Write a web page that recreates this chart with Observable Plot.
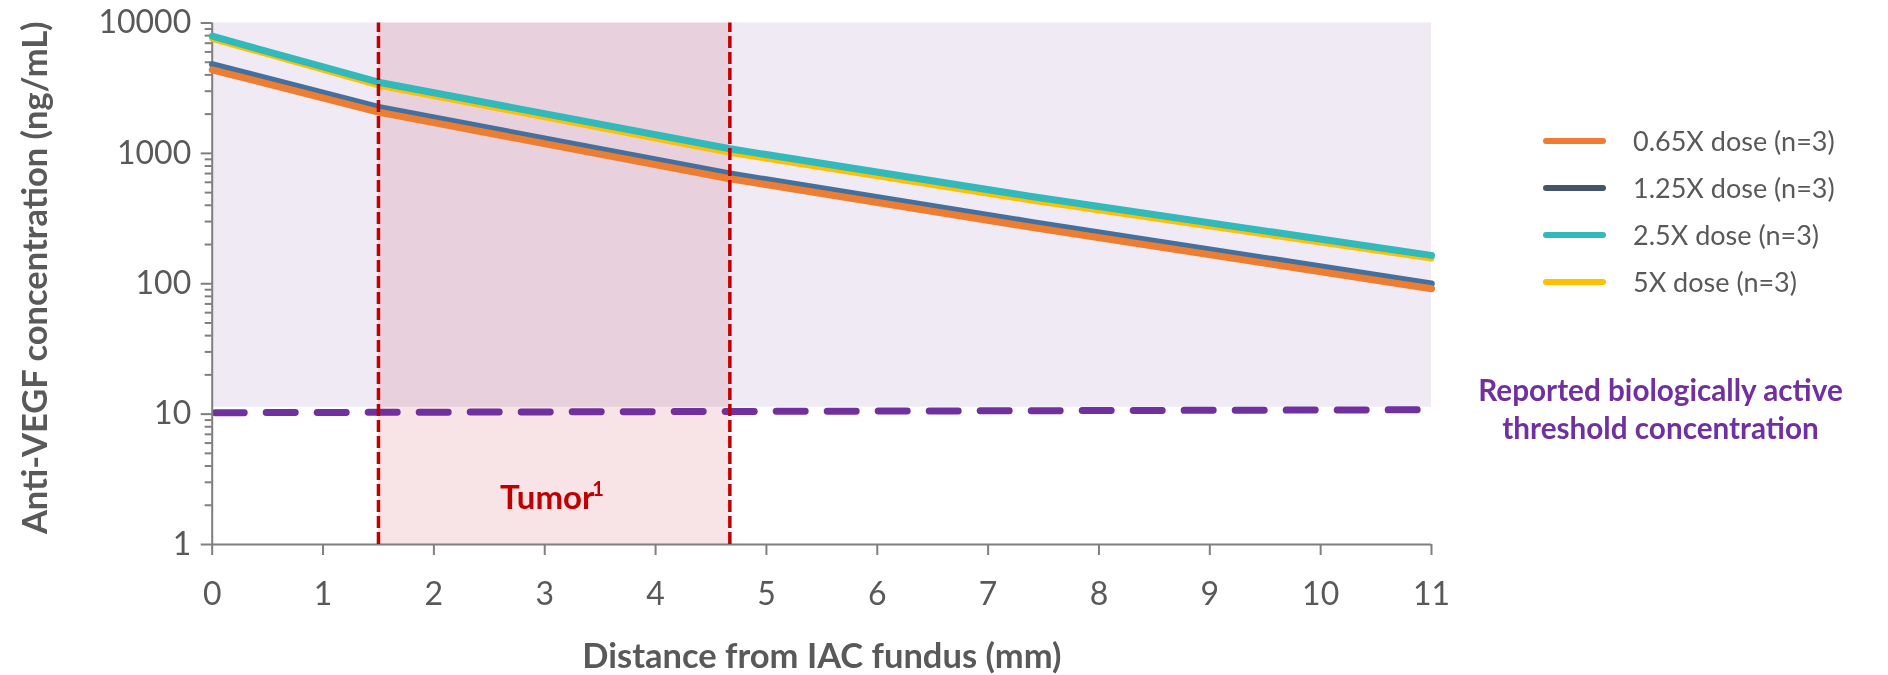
<!DOCTYPE html>
<html>
<head>
<meta charset="utf-8">
<script src="https://cdn.jsdelivr.net/npm/d3@7"></script>
<script src="https://cdn.jsdelivr.net/npm/@observablehq/plot@0.6"></script>
<style>
  html, body { margin: 0; padding: 0; background: #fff; }
  #wrap { position: relative; width: 1888px; height: 675px; font-family: Lato, "Open Sans", sans-serif; }
  #legend { position: absolute; left: 1543px; top: 117px; }
  .row { display: flex; align-items: center; height: 47px; }
  .sw { width: 63px; height: 6px; border-radius: 3px; margin-right: 27px; }
  .lab { font-size: 27px; color: #595959; white-space: nowrap; }
</style>
</head>
<body>
<div id="wrap"></div>
<script>
// ---- data ----
const distance = [0, 1.5, 4.67, 7.39, 11];
const dose065 = [4375, 2070, 639, 271, 91.6];
const dose125 = [4810, 2260, 698, 297, 100];
const dose25  = [7920, 3515, 1084, 467, 165];
const dose5   = [7570, 3318, 1011, 435, 156];

const seriesNames = ["0.65X dose (n=3)", "1.25X dose (n=3)", "2.5X dose (n=3)", "5X dose (n=3)"];
const lineColors = ["#ED7D31", "#43709E", "#31B9BB", "#FFC000"];
const legendColors = ["#ED7D31", "#44546A", "#31B9BB", "#FFC000"];

const tumorRange = [1.5, 4.67];         // mm
const activeZone = [11.3, 10000];       // ng/mL shaded band
const thresholdX = [0, 11];
const thresholdY = [10.25, 10.8];
const xTicks = [0, 1, 2, 3, 4, 5, 6, 7, 8, 9, 10, 11];
const yMajor = [1, 10, 100, 1000, 10000];
const yMinor = [];
for (const dec of [1, 10, 100, 1000]) for (const m of [2,3,4,5,6,7,8,9]) yMinor.push(dec * m);

const toRows = (vals, name) => distance.map((d, i) => ({x: d, y: vals[i], name}));
const s065 = toRows(dose065, seriesNames[0]);
const s125 = toRows(dose125, seriesNames[1]);
const s25  = toRows(dose25,  seriesNames[2]);
const s5   = toRows(dose5,   seriesNames[3]);

const gray = "#7F7F7F", textGray = "#595959";
const tumorMid = (tumorRange[0] + tumorRange[1]) / 2;

const plot = Plot.plot({
  width: 1888,
  height: 675,
  marginLeft: 211.7,
  marginRight: 457,
  marginTop: 22.5,
  marginBottom: 131,
  style: {fontFamily: "Lato, 'Open Sans', sans-serif", background: "#fff", overflow: "visible"},
  x: {domain: [0, 11], axis: null},
  y: {type: "log", domain: [1, 10000], axis: null},
  marks: [
    // active band
    Plot.rect([{}], {x1: thresholdX[0], x2: thresholdX[1], y1: activeZone[0], y2: activeZone[1], fill: "#EFEAF4"}),
    // tumor band
    Plot.rect([{}], {x1: tumorRange[0], x2: tumorRange[1], y1: yMajor[0], y2: yMajor[yMajor.length - 1], fill: "#F8E4E6", mixBlendMode: "multiply"}),
    // threshold dashed line
    Plot.line(thresholdX.map((x, i) => ({x, y: thresholdY[i]})), {x: "x", y: "y", stroke: "#7030A0", strokeWidth: 7, strokeDasharray: "29,22", strokeDashoffset: -3}),
    // axes lines
    Plot.ruleX([0], {y1: 1, y2: 10000, stroke: gray, strokeWidth: 2}),
    Plot.ruleY([1], {x1: 0, x2: 11, stroke: gray, strokeWidth: 2}),
    Plot.axisY(yMinor, {tickSize: 7, strokeWidth: 2, stroke: gray, text: null, label: null}),
    Plot.axisY(yMajor, {tickSize: 11, strokeWidth: 2, stroke: gray, tickPadding: 10, fill: textGray, fontSize: 32, tickFormat: d3.format("d"), label: null}),
    Plot.axisX(xTicks, {tickSize: 11, strokeWidth: 2, stroke: gray, tickPadding: 27, fill: textGray, fontSize: 32, label: null}),
    // series lines
    Plot.line(s125, {x: "x", y: "y", stroke: lineColors[1], strokeWidth: 6.5, strokeLinecap: "round", strokeLinejoin: "round"}),
    Plot.line(s065, {x: "x", y: "y", stroke: lineColors[0], strokeWidth: 7, strokeLinecap: "round", strokeLinejoin: "round"}),
    Plot.line(s5,   {x: "x", y: "y", stroke: lineColors[3], strokeWidth: 6, strokeLinecap: "round", strokeLinejoin: "round"}),
    Plot.line(s25,  {x: "x", y: "y", stroke: lineColors[2], strokeWidth: 7, strokeLinecap: "round", strokeLinejoin: "round"}),
    // tumor dashed borders
    Plot.ruleX(tumorRange, {y1: 1, y2: 10000, stroke: "#C00000", strokeWidth: 3.5, strokeDasharray: "12,4"}),
    // tumor label with superscript
    Plot.text(["Tumor"], {x: tumorMid, y: 2.25, dx: -7, fill: "#C00000", fontWeight: "bold", fontSize: 33}),
    Plot.text(["1"], {x: tumorMid, y: 2.25, dx: 38, dy: -9, textAnchor: "start", fill: "#C00000", fontWeight: "bold", fontSize: 20}),
    // threshold label
    Plot.text(["Reported biologically active\nthreshold concentration"], {x: thresholdX[1], y: 10, dx: 229, dy: -6, fill: "#7030A0", fontWeight: "bold", fontSize: 29.7, lineHeight: 1.28, textAnchor: "middle"}),
    // axis titles
    Plot.text(["Distance from IAC fundus (mm)"], {frameAnchor: "bottom", dy: 112, lineAnchor: "middle", textAnchor: "middle", fill: textGray, fontWeight: "bold", fontSize: 34.5}),
    Plot.text(["Anti-VEGF concentration (ng/mL)"], {frameAnchor: "left", dx: -176, dy: -6, rotate: -90, textAnchor: "middle", lineAnchor: "middle", fill: textGray, fontWeight: "bold", fontSize: 34.5})
  ]
});

const wrap = document.getElementById("wrap");
wrap.appendChild(plot);

const legend = document.createElement("div");
legend.id = "legend";
seriesNames.forEach((n, i) => {
  const row = document.createElement("div");
  row.className = "row";
  const sw = document.createElement("div");
  sw.className = "sw";
  sw.style.background = legendColors[i];
  const lab = document.createElement("div");
  lab.className = "lab";
  lab.textContent = n;
  row.appendChild(sw); row.appendChild(lab);
  legend.appendChild(row);
});
wrap.appendChild(legend);
</script>
</body>
</html>
